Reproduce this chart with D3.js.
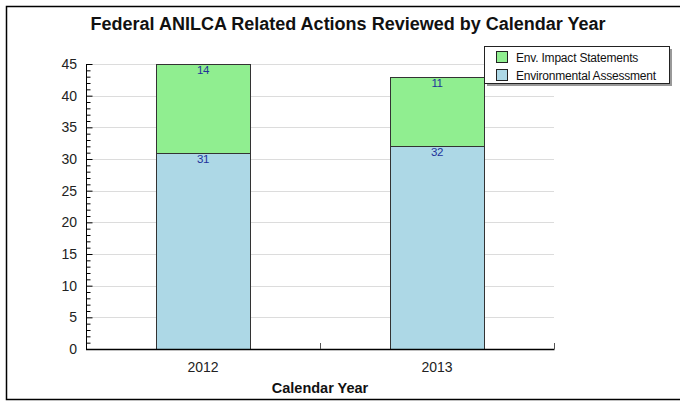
<!DOCTYPE html>
<html>
<head>
<meta charset="utf-8">
<script src="https://cdn.jsdelivr.net/npm/d3@7"></script>
<style>
  body { margin: 0; background: #fff; }
  svg { display: block; font-family: "Liberation Sans", Arial, sans-serif; }
</style>
</head>
<body>
<div class="chart"></div>
<script>
'use strict';

// Data
const years = ['2012', '2013'];
const envAssessment = [31, 32];
const envImpact = [14, 11];
const seriesNames = ['Env. Impact Statements', 'Environmental Assessment'];
const seriesColors = ['#90ee90', '#add8e6'];
const yTicks = [0, 5, 10, 15, 20, 25, 30, 35, 40, 45];

const w = 680;
const h = 402;
const plotL = 86, plotR = 554, plotT = 64, plotB = 349;

const svg = d3.select('.chart')
  .append('svg')
  .attr('width', w)
  .attr('height', h);

// Frame with shadow
svg.append('rect')
  .attr('x', 8).attr('y', 8)
  .attr('width', w + 10).attr('height', h - 10)
  .attr('fill', '#777');
svg.append('rect')
  .attr('x', 6.5).attr('y', 6.5)
  .attr('width', w + 10).attr('height', h - 9)
  .attr('fill', '#fff')
  .attr('stroke', '#000')
  .attr('stroke-width', 1.5);

// Title
svg.append('text')
  .attr('x', 348).attr('y', 30)
  .attr('text-anchor', 'middle')
  .attr('font-size', 18)
  .attr('font-weight', 'bold')
  .attr('fill', '#111')
  .text('Federal ANILCA Related Actions Reviewed by Calendar Year');

// Scales
const xScale = d3.scaleBand()
  .domain(years)
  .range([plotL, plotR])
  .paddingInner(0)
  .paddingOuter(0);

const yScale = d3.scaleLinear()
  .domain([0, 45])
  .range([plotB, plotT]);

// Gridlines
svg.append('g')
  .selectAll('line')
  .data(yTicks.filter(d => d > 0))
  .enter()
  .append('line')
  .attr('x1', plotL).attr('x2', plotR)
  .attr('y1', d => Math.round(yScale(d)) + 0.5)
  .attr('y2', d => Math.round(yScale(d)) + 0.5)
  .attr('stroke', '#dcdcdc');

// Bars
const barW = xScale.bandwidth() * 0.4;
const stacks = years.map((y, i) => [
  { year: y, y0: 0, y1: envAssessment[i], v: envAssessment[i], c: seriesColors[1] },
  { year: y, y0: envAssessment[i], y1: envAssessment[i] + envImpact[i], v: envImpact[i], c: seriesColors[0] }
]).flat();

svg.append('g')
  .selectAll('rect')
  .data(stacks)
  .enter()
  .append('rect')
  .attr('x', d => Math.round(xScale(d.year) + (xScale.bandwidth() - barW) / 2) + 0.5)
  .attr('y', d => Math.round(yScale(d.y1)) + 0.5)
  .attr('width', Math.round(barW))
  .attr('height', d => Math.round(yScale(d.y0)) - Math.round(yScale(d.y1)))
  .attr('fill', d => d.c)
  .attr('stroke', '#333')
  .attr('stroke-width', 1);

// Value labels
svg.append('g')
  .selectAll('text')
  .data(stacks)
  .enter()
  .append('text')
  .attr('x', d => xScale(d.year) + xScale.bandwidth() / 2)
  .attr('y', d => yScale(d.y1) + 10)
  .attr('text-anchor', 'middle')
  .attr('font-size', 11.5)
  .attr('fill', '#22339a')
  .attr('letter-spacing', -0.5)
  .text(d => d.v);

// Y axis
const yAxis = d3.axisRight(yScale)
  .tickValues(d3.range(0, 46, 1))
  .tickSize(4)
  .tickFormat('');
const yg = svg.append('g')
  .attr('transform', `translate(${plotL + 0.5},0)`)
  .call(yAxis);
yg.select('.domain').attr('stroke', '#000').attr('d', `M0,${plotT}V${plotB}`);
yg.selectAll('.tick line')
  .attr('stroke', '#000')
  .attr('x2', d => d % 5 === 0 ? 6 : 4);

svg.append('g')
  .selectAll('text')
  .data(yTicks)
  .enter()
  .append('text')
  .attr('x', 77)
  .attr('y', d => yScale(d) + 5)
  .attr('text-anchor', 'end')
  .attr('font-size', 14)
  .attr('fill', '#222')
  .text(d => d);

// X axis
svg.append('line')
  .attr('x1', plotL).attr('x2', plotR + 0.5)
  .attr('y1', plotB + 0.5).attr('y2', plotB + 0.5)
  .attr('stroke', '#000')
  .attr('stroke-width', 1.5);

svg.append('g')
  .selectAll('line')
  .data(years)
  .enter()
  .append('line')
  .attr('x1', d => Math.round(xScale(d) + xScale.bandwidth()) + 0.5)
  .attr('x2', d => Math.round(xScale(d) + xScale.bandwidth()) + 0.5)
  .attr('y1', plotB)
  .attr('y2', plotB - 6)
  .attr('stroke', '#555');

svg.append('g')
  .selectAll('text')
  .data(years)
  .enter()
  .append('text')
  .attr('x', d => xScale(d) + xScale.bandwidth() / 2)
  .attr('y', 372)
  .attr('text-anchor', 'middle')
  .attr('font-size', 14)
  .attr('fill', '#222')
  .text(d => d);

svg.append('text')
  .attr('x', (plotL + plotR) / 2)
  .attr('y', 393)
  .attr('text-anchor', 'middle')
  .attr('font-size', 14.5)
  .attr('font-weight', 'bold')
  .attr('fill', '#111')
  .text('Calendar Year');

// Legend
const lg = svg.append('g').attr('transform', 'translate(484,46)');
lg.append('rect')
  .attr('x', 3).attr('y', 3)
  .attr('width', 185).attr('height', 37)
  .attr('fill', '#999');
lg.append('rect')
  .attr('x', 0.5).attr('y', 0.5)
  .attr('width', 185).attr('height', 37)
  .attr('fill', '#fff')
  .attr('stroke', '#222');

const items = lg.selectAll('.item')
  .data(seriesNames)
  .enter()
  .append('g')
  .attr('transform', (d, i) => `translate(12,${5.5 + i * 18})`);
items.append('rect')
  .attr('x', 0.5).attr('y', 0)
  .attr('width', 11).attr('height', 11)
  .attr('fill', (d, i) => seriesColors[i])
  .attr('stroke', '#222');
items.append('text')
  .attr('x', 20).attr('y', 10)
  .attr('font-size', 12)
  .attr('fill', '#111')
  .attr('letter-spacing', -0.2)
  .text(d => d);
</script>
</body>
</html>
